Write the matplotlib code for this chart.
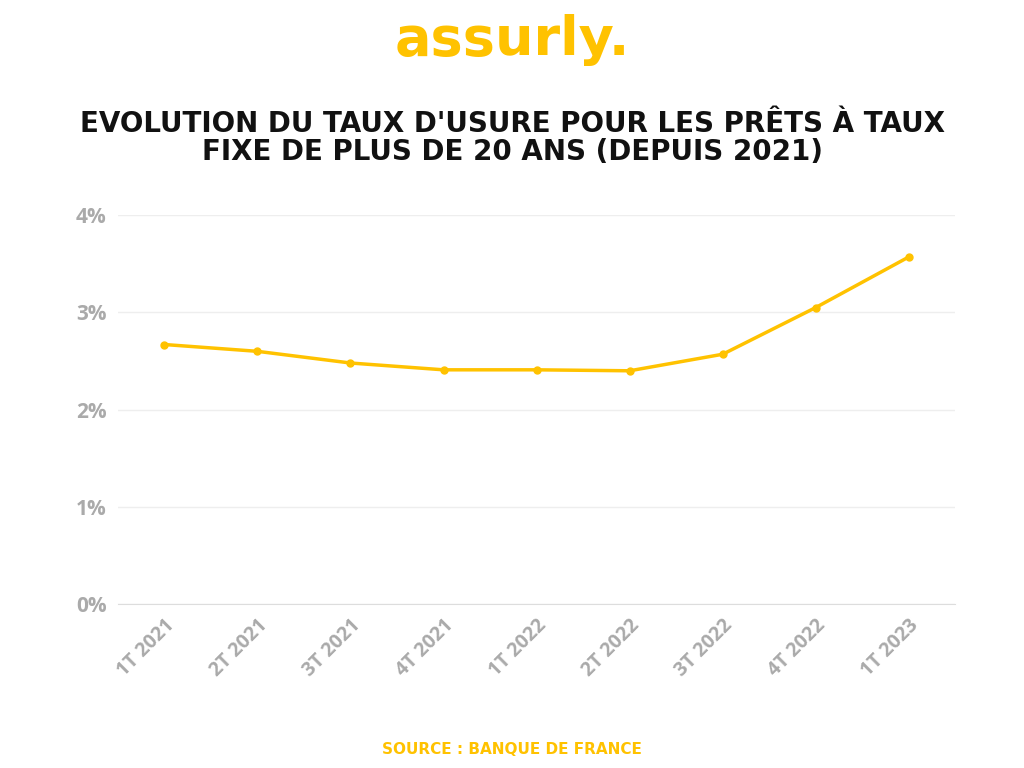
import matplotlib
matplotlib.use("Agg")
import matplotlib.pyplot as plt

categories = ["1T 2021","2T 2021","3T 2021","4T 2021","1T 2022","2T 2022","3T 2022","4T 2022","1T 2023"]
taux = [2.67, 2.60, 2.48, 2.41, 2.41, 2.40, 2.57, 3.05, 3.57]
yticks = [0, 1, 2, 3, 4]

fig = plt.figure(figsize=(10.24, 7.68), dpi=100)
ax = fig.add_axes([0.115, 0.213, 0.818, 0.507])
x = range(len(categories))
ax.plot(x, taux, color="#FFC200", lw=2.5, marker="o", ms=5)
ax.set_xlim(-0.5, len(categories) - 0.5)
ax.set_ylim(0, 4)
ax.set_yticks(yticks)
ax.set_yticklabels([f"{v}%" for v in yticks], fontsize=15, fontweight="bold", color="#AAAAAA", fontfamily="Open Sans")
ax.set_xticks(list(x))
ax.set_xticklabels(categories, rotation=45, ha="right", rotation_mode="anchor", fontsize=14, fontweight="bold", color="#AAAAAA", fontfamily="Open Sans")
ax.grid(axis="y", color="#EEEEEE", lw=1)
ax.set_axisbelow(True)
for s in ["top", "right", "left"]:
    ax.spines[s].set_visible(False)
ax.spines["bottom"].set_color("#DDDDDD")
ax.tick_params(length=0, pad=8)

fig.text(0.5, 0.948, "assurly.", ha="center", va="center", fontsize=39, fontweight="bold", color="#FFC200", fontfamily="DejaVu Sans")
fig.text(0.5, 0.82, "EVOLUTION DU TAUX D'USURE POUR LES PRÊTS À TAUX\nFIXE DE PLUS DE 20 ANS (DEPUIS 2021)", ha="center", va="center",
         fontsize=20, fontweight="bold", color="#111111", fontfamily="DejaVu Sans", linespacing=1.0)
fig.text(0.5, 0.024, "SOURCE : BANQUE DE FRANCE", ha="center", va="center", fontsize=11, fontweight="bold", color="#FFC200", fontfamily="DejaVu Sans")
fig.savefig("out.png", dpi=100)
